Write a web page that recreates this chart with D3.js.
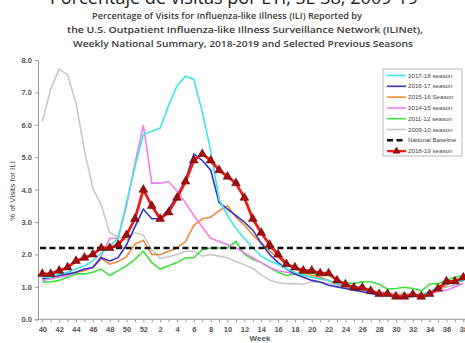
<!DOCTYPE html>
<html lang="en">
<head>
  <meta charset="UTF-8">
  <title>ILI Weekly National Summary</title>
  <script src="https://d3js.org/d3.v7.min.js"></script>
  <style>
    body { margin: 0; background: #fff; }
    svg { display: block; }
  </style>
</head>
<body>
  <svg id="chart" width="465" height="343"></svg>

  <script>
    // Weeks shown on the x axis (season runs from week 40 to week 39)
    const weeks = [40, 41, 42, 43, 44, 45, 46, 47, 48, 49, 50, 51, 52,
                   1, 2, 3, 4, 5, 6, 7, 8, 9, 10, 11, 12, 13, 14, 15, 16, 17, 18, 19,
                   20, 21, 22, 23, 24, 25, 26, 27, 28, 29, 30, 31, 32, 33, 34, 35, 36, 37, 38, 39];

    const yTicks = [0, 1, 2, 3, 4, 5, 6, 7, 8];
    const baseline = 2.2;

    // % of visits for ILI, week 40 .. week 38
    const s1718 = [1.3, 1.3, 1.4, 1.45, 1.55, 1.65, 1.8, 2.05, 2.25, 2.5, 3.6, 4.7, 5.7,
                   5.8, 5.9, 6.6, 7.2, 7.5, 7.4, 6.4, 5.2, 3.7, 3.2, 2.8, 2.5, 2.2, 1.95, 1.8, 1.7, 1.55, 1.45, 1.35,
                   1.3, 1.25, 1.2, 1.1, 1.05, 0.95, 0.95, 0.85, 0.8, 0.75, 0.65, 0.65, 0.7, 0.75, 0.85, 1.0, 1.1, 1.15, 1.2];
    const s1617 = [1.25, 1.3, 1.35, 1.4, 1.45, 1.55, 1.6, 1.9, 1.8, 1.9, 2.3, 2.85, 3.4,
                   3.1, 3.1, 3.4, 3.8, 4.3, 5.1, 4.9, 4.6, 3.6, 3.4, 3.2, 3.0, 2.75, 2.35, 2.0, 1.75, 1.55, 1.4, 1.3,
                   1.2, 1.15, 1.05, 1.0, 0.95, 0.9, 0.85, 0.8, 0.75, 0.75, 0.7, 0.7, 0.75, 0.75, 0.8, 0.95, 1.1, 1.15, 1.2];
    const s1516 = [1.3, 1.3, 1.35, 1.4, 1.45, 1.5, 1.6, 1.88, 1.7, 1.78, 1.93, 2.32, 2.43,
                   2.0, 2.0, 2.1, 2.2, 2.4, 2.9, 3.1, 3.15, 3.35, 3.5, 3.15, 2.9, 2.6, 2.35, 2.1, 1.9, 1.7, 1.55, 1.45,
                   1.35, 1.3, 1.2, 1.1, 1.0, 0.95, 0.9, 0.85, 0.8, 0.75, 0.75, 0.75, 0.75, 0.75, 0.8, 0.9, 1.05, 1.2, 1.25];
    const s1415 = [1.2, 1.25, 1.3, 1.35, 1.45, 1.55, 1.6, 1.95, 2.5, 2.5, 3.5, 4.8, 6.0,
                   4.2, 4.2, 4.25, 3.95, 3.6, 3.2, 2.85, 2.5, 2.4, 2.3, 2.2, 2.05, 1.9, 1.75, 1.6, 1.5, 1.45, 1.4, 1.35,
                   1.3, 1.25, 1.2, 1.1, 1.0, 0.95, 0.9, 0.85, 0.8, 0.8, 0.75, 0.75, 0.75, 0.75, 0.8, 0.85, 0.9, 1.0, 1.1];
    const s1112 = [1.15, 1.15, 1.2, 1.3, 1.4, 1.4, 1.45, 1.55, 1.35, 1.5, 1.65, 1.85, 2.1,
                   1.75, 1.55, 1.65, 1.75, 1.9, 1.9, 2.15, 2.2, 2.2, 2.2, 2.4, 2.0, 1.85, 1.75, 1.6, 1.45, 1.35, 1.4, 1.4,
                   1.42, 1.37, 1.37, 1.21, 1.13, 1.1, 1.16, 1.16, 1.08, 0.93, 0.95, 0.99, 0.95, 0.88, 1.08, 1.1, 1.21, 1.3, 1.35];
    const s0910 = [6.1, 7.1, 7.72, 7.54, 6.67, 5.23, 4.04, 3.53, 2.67, 2.55, 2.45, 2.67, 2.6,
                   2.14, 1.88, 1.93, 2.0, 2.1, 2.1, 1.95, 2.0, 1.95, 1.9, 1.78, 1.68, 1.57, 1.37, 1.21, 1.13, 1.1, 1.1, 1.08,
                   1.15, 1.15, 1.1, 1.05, 1.0, 0.95, 0.95, 0.9, 0.85, 0.85, 0.8, 0.8, 0.8, 0.8, 0.85, 0.9, 1.0, 1.05, 1.1];
    const s1819 = [1.4, 1.4, 1.5, 1.6, 1.8, 1.9, 2.0, 2.2, 2.2, 2.3, 2.6, 3.1, 4.0,
                   3.5, 3.1, 3.3, 3.75, 4.25, 4.9, 5.1, 4.9, 4.6, 4.4, 4.2, 3.75, 3.1, 2.67, 2.3, 2.0, 1.7, 1.6, 1.5,
                   1.5, 1.42, 1.42, 1.2, 1.08, 0.98, 0.98, 0.88, 0.78, 0.78, 0.7, 0.7, 0.77, 0.7, 0.78, 0.95, 1.17, 1.17, 1.29];

    const seasons = [
      { name: "2017-18 season", color: "#3ee6e6", data: s1718 },
      { name: "2016-17 season", color: "#3535cc", data: s1617 },
      { name: "2015-16 Season", color: "#f0893c", data: s1516 },
      { name: "2014-15 season", color: "#ee80ee", data: s1415 },
      { name: "2011-12 season", color: "#3ee03e", data: s1112 },
      { name: "2009-10 season", color: "#c8c8c8", data: s0910 }
    ];

    const svg = d3.select("#chart");

    // Scales (the plot is cropped on the right edge of the picture)
    const x = d3.scaleLinear().domain([0, weeks.length - 1]).range([42.3, 42.3 + 8.42 * (weeks.length - 1)]);
    const y = d3.scaleLinear().domain([0, 8]).range([319.3, 60]);

    // --------------------------
    // Titles
    // --------------------------
    svg.append("text")
      .attr("x", 234).attr("y", 4)
      .attr("text-anchor", "middle")
      .attr("textLength", 368).attr("lengthAdjust", "spacingAndGlyphs")
      .style("font-family", "'Open Sans', sans-serif")
      .style("font-size", "18px")
      .style("fill", "#222")
      .text("Porcentaje de visitas por ETI, SE 38, 2009-19");

    const subLines = [
      { t: "Percentage of Visits for Influenza-like Illness (ILI) Reported by", cx: 227, w: 270, y: 18.5 },
      { t: "the U.S. Outpatient Influenza-like Illness Surveillance Network (ILINet),", cx: 245, w: 356, y: 32.5 },
      { t: "Weekly National Summary, 2018-2019 and Selected Previous Seasons", cx: 243, w: 340, y: 46.5 }
    ];
    svg.selectAll(".sub")
      .data(subLines)
      .enter()
      .append("text")
      .attr("class", "sub")
      .attr("x", d => d.cx).attr("y", d => d.y)
      .attr("text-anchor", "middle")
      .attr("textLength", d => d.w).attr("lengthAdjust", "spacingAndGlyphs")
      .style("font-family", "'Open Sans', sans-serif")
      .style("font-size", "9.5px")
      .style("font-weight", "600")
      .style("fill", "#3a3a3a")
      .text(d => d.t);

    // --------------------------
    // Axes
    // --------------------------
    const yAxis = svg.append("g")
      .attr("transform", "translate(38,0)")
      .call(d3.axisLeft(y).tickValues(yTicks).tickSize(3).tickFormat(d3.format(".1f")));

    const xAxis = svg.append("g")
      .attr("transform", `translate(0,${y(0)})`)
      .call(d3.axisBottom(x)
        .tickValues(d3.range(weeks.length))
        .tickSize(3)
        .tickFormat(i => i % 2 === 0 ? weeks[i] : ""));

    // extend x axis line to the y axis
    xAxis.select(".domain").attr("d", `M38,0H${x(weeks.length - 1)}`);

    [yAxis, xAxis].forEach(ax => {
      ax.selectAll("path, line").attr("stroke", "#999");
      ax.selectAll("text")
        .style("font-family", "'Liberation Sans', Arial, sans-serif")
        .style("font-size", "7.5px")
        .style("font-weight", "bold")
        .style("fill", "#555");
    });
    xAxis.selectAll("text").attr("dy", "0.9em");

    svg.append("text")
      .attr("transform", "translate(15,191) rotate(-90)")
      .attr("text-anchor", "middle")
      .style("font-family", "'Liberation Sans', Arial, sans-serif")
      .style("font-size", "8px")
      .style("fill", "#444")
      .text("% of Visits for ILI");

    svg.append("text")
      .attr("x", 260).attr("y", 341)
      .attr("text-anchor", "middle")
      .style("font-family", "'Liberation Sans', Arial, sans-serif")
      .style("font-size", "8px")
      .style("font-weight", "bold")
      .style("fill", "#555")
      .text("Week");

    // --------------------------
    // Lines
    // --------------------------
    const line = d3.line()
      .x((d, i) => x(i))
      .y(d => y(d));

    // draw older seasons first so 2017-18 sits on top like the original
    seasons.slice().reverse().forEach(s => {
      svg.append("path")
        .datum(s.data)
        .attr("fill", "none")
        .attr("stroke", s.color)
        .attr("stroke-width", 1.6)
        .attr("d", line);
    });

    // National baseline
    svg.append("line")
      .attr("x1", 40).attr("x2", 470)
      .attr("y1", y(baseline)).attr("y2", y(baseline))
      .attr("stroke", "#111")
      .attr("stroke-width", 2.4)
      .attr("stroke-dasharray", "6,3.5");

    // 2018-19 season
    svg.append("path")
      .datum(s1819)
      .attr("fill", "none")
      .attr("stroke", "#ee1a1a")
      .attr("stroke-width", 2.8)
      .attr("d", line);

    const tri = d3.symbol().type(d3.symbolTriangle).size(34);
    svg.selectAll(".tri")
      .data(s1819)
      .enter()
      .append("path")
      .attr("class", "tri")
      .attr("transform", (d, i) => `translate(${x(i)},${y(d)})`)
      .attr("d", tri)
      .attr("fill", "#a30d0d")
      .attr("stroke", "#5a0000")
      .attr("stroke-width", 0.5);

    // --------------------------
    // Legend
    // --------------------------
    const legend = svg.append("g").attr("transform", "translate(383,69)");
    legend.append("rect")
      .attr("width", 79).attr("height", 87)
      .attr("fill", "#fff")
      .attr("stroke", "#aaa")
      .attr("stroke-width", 0.8);

    const legendItems = seasons.map(s => ({ name: s.name, color: s.color, type: "line" }))
      .concat([{ name: "National Baseline", color: "#111", type: "dash" },
               { name: "2018-19 season", color: "#ee1a1a", type: "red" }]);

    const li = legend.selectAll(".li")
      .data(legendItems)
      .enter()
      .append("g")
      .attr("class", "li")
      .attr("transform", (d, i) => `translate(0,${6.5 + i * 10.8})`);

    li.append("line")
      .attr("x1", 4).attr("x2", 23)
      .attr("stroke", d => d.color)
      .attr("stroke-width", d => d.type === "line" ? 1.6 : 2.4)
      .attr("stroke-dasharray", d => d.type === "dash" ? "6,3.5" : null);

    li.filter(d => d.type === "red")
      .append("path")
      .attr("transform", "translate(13.5,0)")
      .attr("d", d3.symbol().type(d3.symbolTriangle).size(22))
      .attr("fill", "#a30d0d")
      .attr("stroke", "#5a0000")
      .attr("stroke-width", 0.5);

    li.append("text")
      .attr("x", 25).attr("dy", "0.35em")
      .style("font-family", "'Liberation Sans', Arial, sans-serif")
      .style("font-size", "6.2px")
      .style("fill", "#444")
      .text(d => d.name);
  </script>
</body>
</html>
